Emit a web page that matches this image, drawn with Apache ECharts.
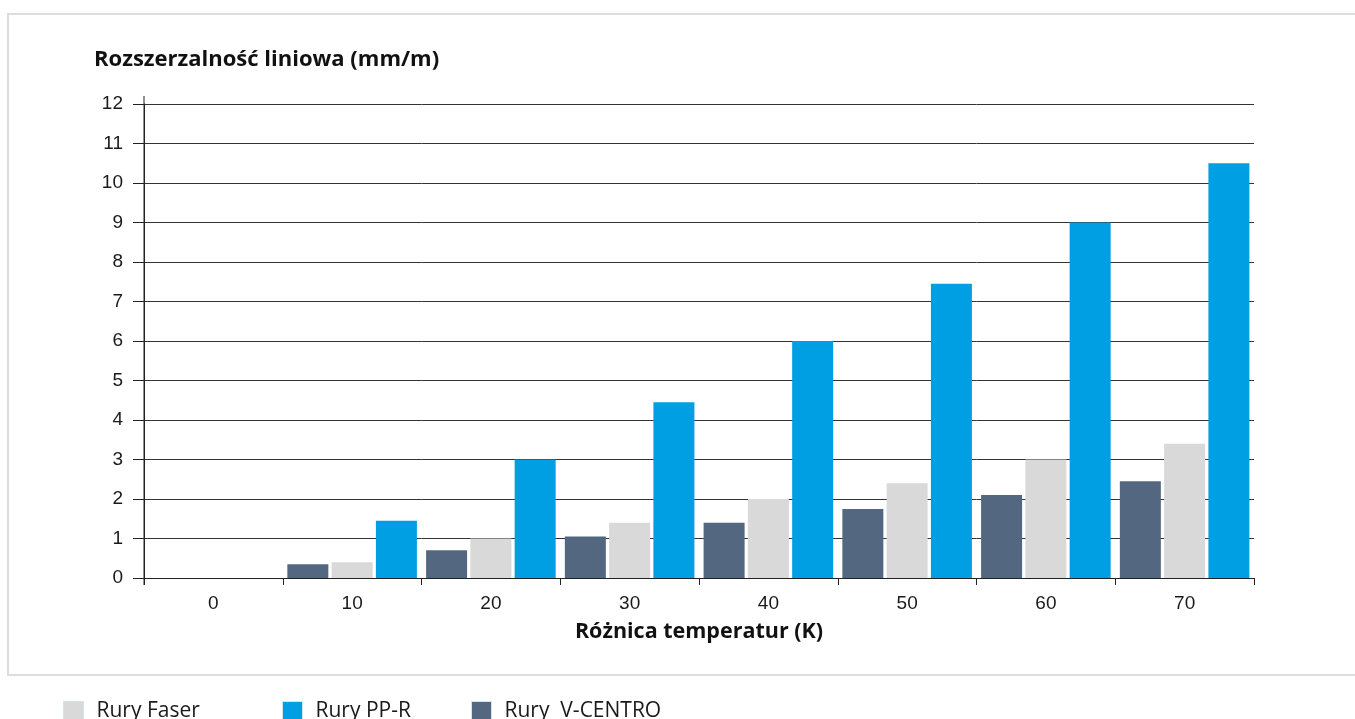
<!DOCTYPE html>
<html>
<head>
<meta charset="utf-8">
<script src="https://cdn.jsdelivr.net/npm/echarts@6/dist/echarts.min.js"></script>
<style>
  html, body { margin: 0; padding: 0; background: #fff; }
  #chart { width: 1355px; height: 719px; }
</style>
</head>
<body>
<div id="chart"></div>
<script>
// Linear thermal expansion of pipes by temperature difference
const categories = ['0', '10', '20', '30', '40', '50', '60', '70'];
const vCentro = [0, 0.35, 0.7, 1.05, 1.4, 1.75, 2.1, 2.45];
const faser   = [0, 0.4, 1.0, 1.4, 2.0, 2.4, 3.0, 3.4];
const ppr     = [0, 1.45, 3.0, 4.45, 6.0, 7.45, 9.0, 10.5];
const yTicks  = { min: 0, max: 12, interval: 1 };

const seriesNames = { faser: 'Rury Faser', ppr: 'Rury PP-R', vCentro: 'Rury  V-CENTRO' };
const colors = { faser: '#d9d9d9', ppr: '#009fe3', vCentro: '#536880' };

const axisColor = '#222';
const labelFont = 'Liberation Sans, Arial, sans-serif';
const boldFont = 'Open Sans, Noto Sans, sans-serif';

const chart = echarts.init(document.getElementById('chart'), null, { renderer: 'canvas' });

function legendAt(left, key) {
  return {
    left: left,
    top: 701,
    padding: 0,
    itemWidth: 20,
    itemHeight: 20,
    itemGap: 0,
    icon: 'rect',
    selectedMode: false,
    data: [{ name: seriesNames[key], itemStyle: { borderColor: '#cfe4ef', borderWidth: 1 } }],
    textStyle: { fontFamily: boldFont, fontSize: 21, color: '#1a1a1a', padding: [0, 0, 0, 8] }
  };
}

function barSeries(key, data) {
  return {
    name: seriesNames[key],
    type: 'bar',
    data: data,
    barWidth: 41,
    barGap: '8%',
    itemStyle: { color: colors[key] }
  };
}

chart.setOption({
  animation: false,
  title: {
    text: 'Rozszerzalność liniowa (mm/m)',
    left: 94,
    top: 49,
    padding: 0,
    textStyle: { fontFamily: boldFont, fontWeight: 'bold', fontSize: 22, color: '#111' }
  },
  legend: [legendAt(63, 'faser'), legendAt(282, 'ppr'), legendAt(471, 'vCentro')],
  grid: { left: 144, right: 101, top: 104, bottom: 141, containLabel: false },
  xAxis: {
    type: 'category',
    data: categories,
    boundaryGap: true,
    name: 'Różnica temperatur (K)',
    nameLocation: 'middle',
    nameGap: 43,
    nameTextStyle: { fontFamily: boldFont, fontWeight: 'bold', fontSize: 21.5, color: '#111' },
    axisLine: { lineStyle: { color: axisColor, width: 1 } },
    axisTick: { show: true, length: 7, alignWithLabel: false, lineStyle: { color: axisColor } },
    axisLabel: { fontFamily: labelFont, fontSize: 19, color: '#1a1a1a', margin: 16 }
  },
  yAxis: {
    type: 'value',
    min: yTicks.min,
    max: yTicks.max,
    interval: yTicks.interval,
    axisLine: { show: true, lineStyle: { color: axisColor, width: 1 } },
    axisTick: { show: true, length: 11, lineStyle: { color: axisColor } },
    axisLabel: { fontFamily: labelFont, fontSize: 19, color: '#1a1a1a', margin: 21 },
    splitLine: { show: true, lineStyle: { color: '#333', width: 1 } }
  },
  series: [
    barSeries('vCentro', vCentro),
    barSeries('faser', faser),
    barSeries('ppr', ppr)
  ]
});

// Outer frame and the y-axis line overshooting the top and bottom gridlines
const top12 = chart.convertToPixel({ gridIndex: 0 }, [0, yTicks.max]);
const bottom0 = chart.convertToPixel({ gridIndex: 0 }, [0, yTicks.min]);
const axisX = chart.convertToPixel({ xAxisIndex: 0 }, 0) - chart.getModel().getComponent('xAxis', 0).axis.getBandWidth() / 2;
chart.setOption({
  graphic: [
    {
      type: 'rect', z: -1, silent: true,
      shape: { x: 8, y: 14, width: 1360, height: 661 },
      style: { fill: 'none', stroke: '#dddddd', lineWidth: 2 }
    },
    {
      type: 'line', silent: true, z: 10,
      shape: { x1: axisX, y1: top12[1] - 8, x2: axisX, y2: bottom0[1] + 7 },
      style: { stroke: axisColor, lineWidth: 1 }
    }
  ]
});
</script>
</body>
</html>
